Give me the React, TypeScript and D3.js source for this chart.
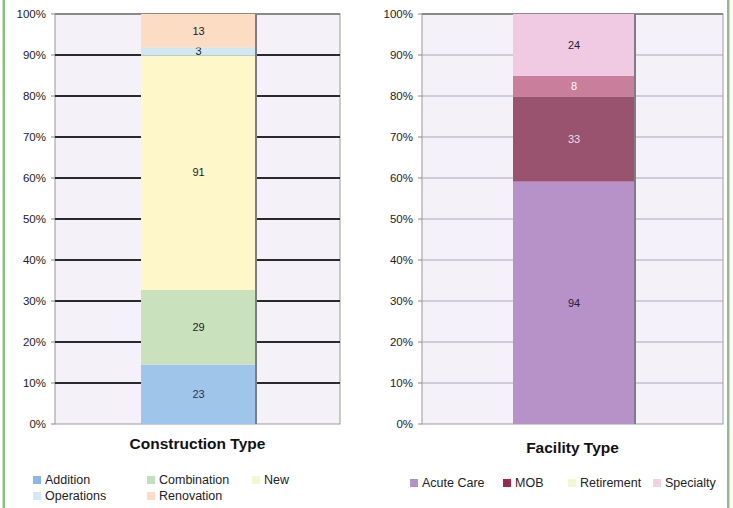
import React from "react";
import * as d3 from "d3";

const W = 733;
const H = 508;

const constructionCategories = ["Addition", "Combination", "New", "Operations", "Renovation"];
const constructionValues = [23, 29, 91, 3, 13];
const constructionColors = ["#9fc6ea", "#c9e2bd", "#fdf7c9", "#cfe8f2", "#fcdcc2"];
const constructionLabelColors = ["#1f3550", "#222", "#222", "#223", "#222"];
const constructionLegendColors = ["#8ab8e4", "#c4dfbd", "#f2f8d4", "#d3e9f4", "#fcdcc6"];

const facilityCategories = ["Acute Care", "MOB", "Retirement", "Specialty"];
const facilityValues = [94, 33, 8, 24];
const facilityColors = ["#b792c9", "#99536f", "#c97e9b", "#efcae2"];
const facilityLabelColors = ["#2a1a35", "#f2dbe6", "#ffffff", "#2a1a2a"];
const facilityLegendColors = ["#b392c8", "#a0284e", "#f0f7d2", "#f0d2e2"];

const yTicks = [0, 0.1, 0.2, 0.3, 0.4, 0.5, 0.6, 0.7, 0.8, 0.9, 1];

type PanelProps = {
  x0: number;
  x1: number;
  barX0: number;
  barX1: number;
  title: string;
  values: number[];
  colors: string[];
  labelColors: string[];
  gridColor: string;
  gridWidth: number;
  tickX: number;
  titleY: number;
};

const yScale = d3.scaleLinear().domain([0, 1]).range([424, 14]);
const FONT = "Liberation Sans, Arial, sans-serif";

function Panel(p: PanelProps) {
  const total = d3.sum(p.values);
  const cum = Array.from(d3.cumsum(p.values));
  const fmt = d3.format(".0%");
  const cx = (p.barX0 + p.barX1) / 2;
  return (
    <g>
      <rect x={p.x0} y={yScale(1)} width={p.x1 - p.x0} height={yScale(0) - yScale(1)} fill="#f4f1f8" stroke="#9a9a9a" strokeWidth={1} />
      {yTicks.map((t) => (
        <g key={t}>
          {t > 0 && t < 1 && (
            <line x1={p.x0} x2={p.x1} y1={yScale(t)} y2={yScale(t)} stroke={p.gridColor} strokeWidth={p.gridWidth} />
          )}
          <line x1={p.x0 - 4} x2={p.x0} y1={yScale(t)} y2={yScale(t)} stroke="#888" strokeWidth={1} />
          <text x={p.tickX} y={yScale(t)} dy="0.35em" textAnchor="end" fontSize={11.5} fill="#222" fontFamily={FONT}>
            {fmt(t)}
          </text>
        </g>
      ))}
      <rect x={p.x0} y={yScale(1) - 1} width={p.x1 - p.x0} height={2} fill="#8a8a8a" />
      {p.values.map((v, i) => {
        const lo = (cum[i] - v) / total;
        const hi = cum[i] / total;
        const yTop = yScale(hi);
        const yBot = yScale(lo);
        return (
          <g key={i}>
            <rect x={p.barX0} y={yTop} width={p.barX1 - p.barX0} height={yBot - yTop} fill={p.colors[i]} />
            <text x={cx} y={(yTop + yBot) / 2} dy="0.35em" textAnchor="middle" fontSize={11} fill={p.labelColors[i]} fontFamily={FONT}>
              {v}
            </text>
          </g>
        );
      })}
      <rect x={p.barX1 - 1} y={yScale(1)} width={2} height={yScale(0) - yScale(1)} fill="#7d7d85" />
      <text x={(p.x0 + p.x1) / 2} y={p.titleY} textAnchor="middle" fontSize={15.5} fontWeight="bold" fill="#111" fontFamily={FONT}>
        {p.title}
      </text>
    </g>
  );
}

function Legend({ items, colors, positions }: { items: string[]; colors: string[]; positions: [number, number][] }) {
  return (
    <g fontFamily={FONT} fontSize={12.5} fill="#222">
      {items.map((it, i) => (
        <g key={it} transform={`translate(${positions[i][0]},${positions[i][1]})`}>
          <rect x={0} y={-4} width={8} height={8} fill={colors[i]} />
          <text x={12} y={0} dy="0.35em">{it}</text>
        </g>
      ))}
    </g>
  );
}

export default function App() {
  return (
    <svg width={W} height={H} style={{ display: "block", background: "#fff", position: "absolute", left: 0, top: 0 }}>
      <rect x={0} y={0} width={W} height={H} fill="#fff" />
      <rect x={2.5} y={0} width={2.5} height={H} fill="#8fbf85" />
      <rect x={727} y={0} width={2.5} height={H} fill="#8fbf85" />
      <Panel
        x0={55}
        x1={340}
        barX0={141}
        barX1={256}
        title="Construction Type"
        values={constructionValues}
        colors={constructionColors}
        labelColors={constructionLabelColors}
        gridColor="#2a2a2a"
        gridWidth={2}
        tickX={46}
        titleY={449}
      />
      <Panel
        x0={422}
        x1={723}
        barX0={513}
        barX1={635}
        title="Facility Type"
        values={facilityValues}
        colors={facilityColors}
        labelColors={facilityLabelColors}
        gridColor="#a8a8b0"
        gridWidth={1}
        tickX={413}
        titleY={453}
      />
      <Legend
        items={constructionCategories}
        colors={constructionLegendColors}
        positions={[[33, 480], [147, 480], [252, 480], [33, 496], [147, 496]]}
      />
      <Legend
        items={facilityCategories}
        colors={facilityLegendColors}
        positions={[[410, 483], [503, 483], [568, 483], [653, 483]]}
      />
    </svg>
  );
}
